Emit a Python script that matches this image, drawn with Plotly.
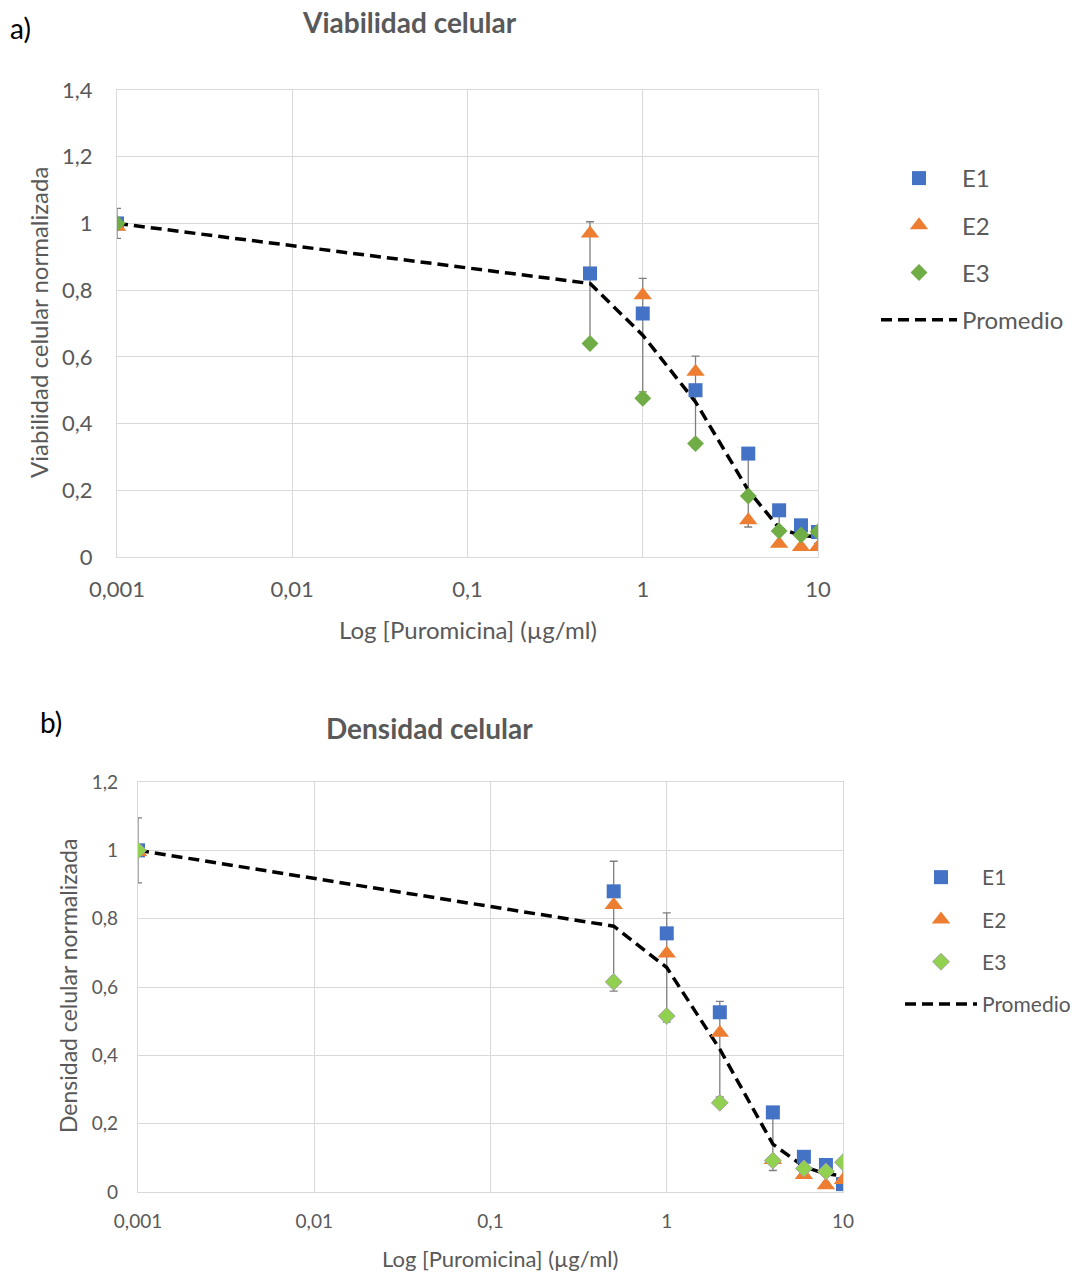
import plotly.graph_objects as go

conc = [0.001, 0.5, 1, 2, 4, 6, 8, 10]

via_e1 = [1.00, 0.85, 0.73, 0.50, 0.31, 0.14, 0.095, 0.075]
via_e2 = [0.99, 0.97, 0.785, 0.555, 0.11, 0.04, 0.03, 0.03]
via_e3 = [1.00, 0.64, 0.476, 0.34, 0.183, 0.078, 0.066, 0.076]
via_mean = [1.00, 0.82, 0.665, 0.465, 0.20, 0.087, 0.064, 0.061]
via_err = [0.045, 0.185, 0.17, 0.137, 0.11, 0.05, 0.03, 0.02]

den_e1 = [1.00, 0.88, 0.757, 0.526, 0.233, 0.103, 0.079, 0.023]
den_e2 = [0.995, 0.84, 0.698, 0.466, 0.094, 0.05, 0.02, 0.035]
den_e3 = [1.00, 0.615, 0.515, 0.261, 0.092, 0.069, 0.06, 0.087]
den_mean = [1.00, 0.778, 0.657, 0.418, 0.14, 0.074, 0.053, 0.048]
den_err = [0.095, 0.19, 0.16, 0.14, 0.077, 0.03, 0.025, 0.03]

x_tickvals = [0.001, 0.01, 0.1, 1, 10]
x_ticktext = ["0,001", "0,01", "0,1", "1", "10"]
y1_tickvals = [0, 0.2, 0.4, 0.6, 0.8, 1.0, 1.2, 1.4]
y1_ticktext = ["0", "0,2", "0,4", "0,6", "0,8", "1", "1,2", "1,4"]
y2_tickvals = [0, 0.2, 0.4, 0.6, 0.8, 1.0, 1.2]
y2_ticktext = ["0", "0,2", "0,4", "0,6", "0,8", "1", "1,2"]

FONT = "Lato"
GRAY = "#595959"
GRID = "#d9d9d9"
W, H = 1072, 1272

fig = go.Figure()


def add_panel(xa, ya, leg, mean, err, e1, e2, e3, e3color, e3line):
    fig.add_trace(go.Scatter(
        x=conc, y=mean, mode="lines", name="Promedio",
        line=dict(color="black", width=3.5, dash="11px,6px"),
        error_y=dict(type="data", array=err, visible=True, color="#7f7f7f",
                     thickness=1.3, width=4),
        xaxis=xa, yaxis=ya, legend=leg, legendrank=4, legendgroup=leg + "p"))
    fig.add_trace(go.Scatter(
        x=conc, y=e1, mode="markers", name="E1",
        marker=dict(symbol="square", size=14, color="#4472C4"),
        xaxis=xa, yaxis=ya, legend=leg, legendrank=1, legendgroup=leg + "1"))
    fig.add_trace(go.Scatter(
        x=conc, y=e2, mode="markers", name="E2",
        marker=dict(symbol="triangle-up", size=16, color="#ED7D31"),
        xaxis=xa, yaxis=ya, legend=leg, legendrank=2, legendgroup=leg + "2"))
    fig.add_trace(go.Scatter(
        x=conc, y=e3, mode="markers", name="E3",
        marker=dict(symbol="diamond", size=13, color=e3color,
                    line=dict(color=e3line, width=1 if e3line else 0)),
        xaxis=xa, yaxis=ya, legend=leg, legendrank=3, legendgroup=leg + "3"))


add_panel("x", "y", "legend", via_mean, via_err, via_e1, via_e2, via_e3, "#70AD47", None)
add_panel("x2", "y2", "legend2", den_mean, den_err, den_e1, den_e2, den_e3, "#92D050", "#a5a5a5")


def axis_style(size, standoff):
    return dict(showgrid=True, gridcolor=GRID, gridwidth=1, showline=True,
                linecolor=GRID, linewidth=1.3, mirror=True, zeroline=False,
                ticks="", automargin=False, ticklabelstandoff=standoff,
                tickfont=dict(family=FONT, size=size, color=GRAY))


def txt(text, x, y, size, color=GRAY, angle=0, anchor="center"):
    return dict(text=text, x=x / W, y=1 - y / H, xref="paper", yref="paper",
                xanchor=anchor, yanchor="middle", showarrow=False, textangle=angle,
                font=dict(family=FONT, size=size, color=color))


fig.update_layout(
    width=W, height=H, margin=dict(l=0, r=0, t=0, b=0, autoexpand=False),
    plot_bgcolor="white", paper_bgcolor="white",
    font=dict(family=FONT, color=GRAY),
    xaxis=dict(type="log", range=[-3, 1], domain=[117 / W, 818 / W],
               tickvals=x_tickvals, ticktext=x_ticktext, anchor="y",
               **axis_style(22, 12)),
    yaxis=dict(range=[0, 1.4], domain=[1 - 557 / H, 1 - 90 / H],
               tickvals=y1_tickvals, ticktext=y1_ticktext, anchor="x",
               **axis_style(22, 19)),
    xaxis2=dict(type="log", range=[-3, 1], domain=[138 / W, 843 / W],
                tickvals=x_tickvals, ticktext=x_ticktext, anchor="y2",
                **axis_style(19, 12)),
    yaxis2=dict(range=[0, 1.2], domain=[1 - 1192 / H, 1 - 782 / H],
                tickvals=y2_tickvals, ticktext=y2_ticktext, anchor="x2",
                **axis_style(19, 15)),
    legend=dict(x=876 / W, y=1 - 156 / H, xanchor="left", yanchor="top",
                font=dict(family=FONT, size=24, color=GRAY), tracegroupgap=13,
                itemwidth=76, bgcolor="rgba(0,0,0,0)"),
    legend2=dict(x=900 / W, y=1 - 857 / H, xanchor="left", yanchor="top",
                 font=dict(family=FONT, size=21, color=GRAY), tracegroupgap=12,
                 itemwidth=72, bgcolor="rgba(0,0,0,0)"),
    annotations=[
        txt("a)", 8, 28, 28, color="black", anchor="left"),
        txt("<b>Viabilidad celular</b>", 409, 22, 28),
        txt("Log [Puromicina] (µg/ml)", 468, 630, 24),
        txt("Viabilidad celular normalizada", 38, 323, 24, angle=-90),
        txt("b)", 38, 722, 28, color="black", anchor="left"),
        txt("<b>Densidad celular</b>", 429, 728, 28),
        txt("Log [Puromicina] (µg/ml)", 500, 1258, 22),
        txt("Densidad celular normalizada", 68, 986, 23, angle=-90),
    ],
)

fig.write_html("out.html")
